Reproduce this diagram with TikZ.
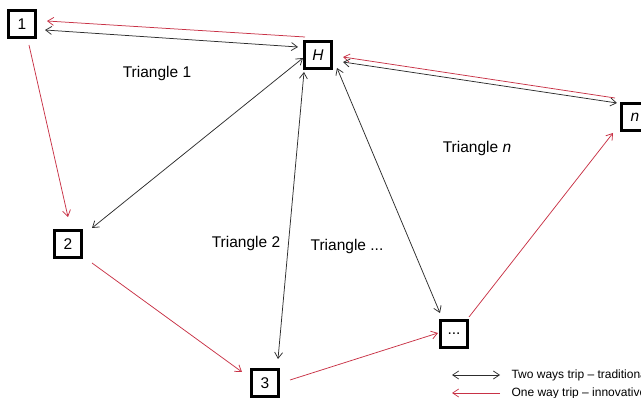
\documentclass[tikz,border=0pt]{standalone}
\usepackage{fontspec}
\setmainfont{Liberation Sans}
\usetikzlibrary{arrows.meta}
\definecolor{redline}{RGB}{200,50,70}
\definecolor{darkline}{RGB}{45,45,45}
\begin{document}
\begin{tikzpicture}[x=1pt,y=-1pt,
  box/.style={draw=black,line width=2.2pt,minimum size=27pt,inner sep=0pt,font=\fontsize{15.5}{18}\selectfont},
  lbl/.style={font=\fontsize{15.5}{18}\selectfont},
  leg/.style={font=\fontsize{12}{14}\selectfont,anchor=west},
  two/.style={darkline,line width=0.75pt,{Straight Barb[length=6pt,width=8pt]}-{Straight Barb[length=6pt,width=8pt]}},
  one/.style={redline,line width=0.75pt,-{Straight Barb[length=6pt,width=8pt]}}]
\useasboundingbox (0,0) rectangle (641,398);
\node[box] (n1) at (22,24) {1};
\node[box] (H) at (318,55) {\itshape H};
\node[box] (nn) at (635,117) {\itshape n};
\node[box] (n2) at (68,244) {2};
\node[box] (n3) at (265,383) {3};
\node[box] (dots) at (454,334) {...};
% connectors
\draw[one] ([shift={(-13,-18)}]H.center) -- ([shift={(25,-3)}]n1.center);
\draw[two] ([shift={(23,6)}]n1.center) -- ([shift={(-20,-8)}]H.center);
\draw[one] ([shift={(7,21)}]n1.center) -- ([shift={(0,-27)}]n2.center);
\draw[two] ([shift={(-15,3)}]H.center) -- ([shift={(24,-16)}]n2.center);
\draw[two] ([shift={(-14,17)}]H.center) -- ([shift={(13,-24)}]n3.center);
\draw[two] ([shift={(19,13)}]H.center) -- ([shift={(-14,-21)}]dots.center);
\draw[one] ([shift={(24,19)}]n2.center) -- ([shift={(-23,-11)}]n3.center);
\draw[one] ([shift={(25,-3)}]n3.center) -- ([shift={(-16,-1)}]dots.center);
\draw[one] ([shift={(15,-17)}]dots.center) -- ([shift={(-22,16)}]nn.center);
\draw[one] ([shift={(-20,-19)}]nn.center) -- ([shift={(25,2)}]H.center);
\draw[two] ([shift={(25,7)}]H.center) -- ([shift={(-18,-14)}]nn.center);
% labels
\node[lbl] (t1) at (157,73) {Triangle 1};
\node[lbl] (t2) at (246,243) {Triangle 2};
\node[lbl] (t3) at (347,246) {Triangle ...};
\node[lbl] (tn) at (477,148) {Triangle \itshape n};
% legend
\coordinate (la) at (452,375);
\coordinate (lb) at (500,375);
\coordinate (lc) at (500,393);
\coordinate (ld) at (452,393);
\draw[two] (la) -- (lb);
\draw[one] (lc) -- (ld);
\node[leg] (lt1) at (508,375) {Two ways trip – traditional};
\node[leg] (lt2) at (508,393) {One way trip – innovative};
\end{tikzpicture}
\end{document}
